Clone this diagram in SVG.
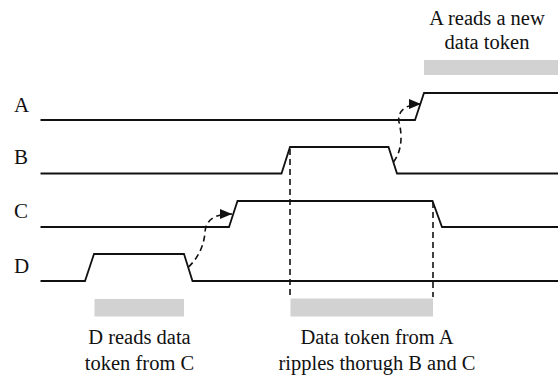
<svg xmlns="http://www.w3.org/2000/svg" width="558" height="379" viewBox="0 0 558 379">
  <style>
    .sig { fill: none; stroke: #111; stroke-width: 1.8; stroke-linejoin: miter; }
    .bar { fill: #d2d2d2; }
    .dash { fill: none; stroke: #111; stroke-width: 1.6; stroke-dasharray: 6 4; }
    text { font-family: 'Liberation Serif', 'Times New Roman', 'DejaVu Serif', Times, serif; fill: #111; }
    .lbl { font-size: 21px; }
    .note { font-size: 20.5px; text-anchor: middle; }
  </style>
  <defs>
    <marker id="head" markerUnits="userSpaceOnUse" markerWidth="13" markerHeight="11" refX="12" refY="5" orient="auto">
      <path d="M0,0 L12,5 L0,10 z" fill="#111"/>
    </marker>
  </defs>
  <rect width="558" height="379" fill="#fff"/>

  <!-- signal A -->
  <g id="sigA">
    <text class="lbl" x="14" y="112">A</text>
    <polyline class="sig" points="40.5,120 415,120 424,93 558,93"/>
  </g>

  <!-- signal B -->
  <g id="sigB">
    <text class="lbl" x="14" y="164">B</text>
    <polyline class="sig" points="40.5,173.5 281.5,173.5 290,147 388.5,147 397,173.5 558,173.5"/>
  </g>

  <!-- signal C -->
  <g id="sigC">
    <text class="lbl" x="14" y="218">C</text>
    <polyline class="sig" points="40.5,227 229,227 237.5,201 432.5,201 442,227 558,227"/>
  </g>

  <!-- signal D -->
  <g id="sigD">
    <text class="lbl" x="14" y="273">D</text>
    <polyline class="sig" points="40.5,281 85,281 94,254 184,254 192.5,281 558,281"/>
  </g>

  <!-- annotation: A reads -->
  <g id="noteA">
    <rect class="bar" x="424" y="60" width="134" height="15"/>
    <text class="note" x="487" y="25">A reads a new</text>
    <text class="note" x="487" y="49">data token</text>
  </g>

  <!-- annotation: D reads -->
  <g id="noteD">
    <rect class="bar" x="94.5" y="299" width="89.5" height="17.5"/>
    <text class="note" x="139.5" y="344">D reads data</text>
    <text class="note" x="139.5" y="370">token from C</text>
  </g>

  <!-- annotation: ripple -->
  <g id="noteRipple">
    <rect class="bar" x="290.5" y="298.5" width="142.5" height="18"/>
    <text class="note" x="377" y="344">Data token from A</text>
    <text class="note" x="377" y="370">ripples thorugh B and C</text>
  </g>

  <!-- dependencies between the handshake edges -->
  <g id="connectors">
    <line class="dash" x1="290" y1="149" x2="290" y2="297"/>
    <line class="dash" x1="433" y1="202" x2="433" y2="297"/>
    <path class="dash" d="M188.5,267 C198,258 204,246 205,232 C206,220 214,214 232,214" marker-end="url(#head)"/>
    <path class="dash" d="M393.5,162 C401,152 403,138 399,122 C397,112 405,104 421,104" marker-end="url(#head)"/>
  </g>
</svg>
